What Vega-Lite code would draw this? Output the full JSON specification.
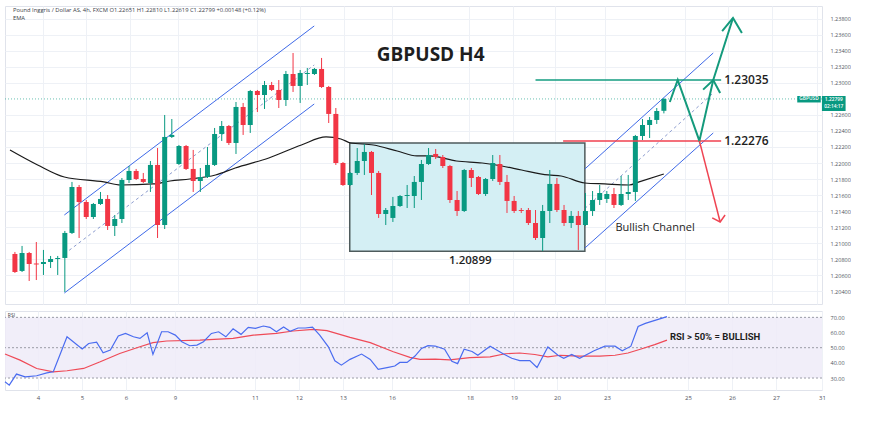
{
  "$schema": "https://vega.github.io/schema/vega-lite/v6.json",
  "background": "white",
  "padding": {"left": 2, "top": 5, "right": 0, "bottom": 0},
  "spacing": 5,
  "config": {"view": {"stroke": "#e0e3eb"}, "font": "Open Sans"},
  "datasets": {
    "candles": [
      {"i":0,"o":1.20866,"h":1.20891,"l":1.20629,"c":1.20641},
      {"i":1,"o":1.20654,"h":1.20966,"l":1.20641,"c":1.20878},
      {"i":2,"o":1.20878,"h":1.20891,"l":1.20529,"c":1.20741},
      {"i":3,"o":1.20747,"h":1.21015,"l":1.20541,"c":1.20735},
      {"i":4,"o":1.20741,"h":1.20916,"l":1.20604,"c":1.20766},
      {"i":5,"o":1.20766,"h":1.20841,"l":1.20691,"c":1.20803},
      {"i":6,"o":1.20803,"h":1.20841,"l":1.20604,"c":1.20816},
      {"i":7,"o":1.20816,"h":1.21153,"l":1.20392,"c":1.21128},
      {"i":8,"o":1.21128,"h":1.21764,"l":1.21115,"c":1.21701},
      {"i":9,"o":1.21701,"h":1.21726,"l":1.21065,"c":1.21514},
      {"i":10,"o":1.21514,"h":1.21539,"l":1.21302,"c":1.21327},
      {"i":11,"o":1.21327,"h":1.21502,"l":1.21302,"c":1.21489},
      {"i":12,"o":1.21489,"h":1.21639,"l":1.21477,"c":1.21552},
      {"i":13,"o":1.21552,"h":1.21601,"l":1.21165,"c":1.21215},
      {"i":14,"o":1.21215,"h":1.21352,"l":1.2109,"c":1.21302},
      {"i":15,"o":1.21302,"h":1.21813,"l":1.21252,"c":1.21788},
      {"i":16,"o":1.21788,"h":1.21963,"l":1.21751,"c":1.21901},
      {"i":17,"o":1.21901,"h":1.21926,"l":1.21788,"c":1.21801},
      {"i":18,"o":1.21801,"h":1.21876,"l":1.21751,"c":1.21764},
      {"i":19,"o":1.21751,"h":1.22025,"l":1.21639,"c":1.21976},
      {"i":20,"o":1.21976,"h":1.22187,"l":1.21065,"c":1.21227},
      {"i":21,"o":1.21227,"h":1.22599,"l":1.21177,"c":1.22325},
      {"i":22,"o":1.22325,"h":1.22549,"l":1.22312,"c":1.2235},
      {"i":23,"o":1.21988,"h":1.22225,"l":1.21976,"c":1.22212},
      {"i":24,"o":1.22212,"h":1.22225,"l":1.21913,"c":1.21926},
      {"i":25,"o":1.21926,"h":1.22163,"l":1.21639,"c":1.21776},
      {"i":26,"o":1.21776,"h":1.21938,"l":1.21639,"c":1.21826},
      {"i":27,"o":1.21826,"h":1.222,"l":1.21813,"c":1.21976},
      {"i":28,"o":1.21976,"h":1.22437,"l":1.21963,"c":1.22362},
      {"i":29,"o":1.22362,"h":1.22524,"l":1.22275,"c":1.22462},
      {"i":30,"o":1.22462,"h":1.22474,"l":1.22225,"c":1.2225},
      {"i":31,"o":1.2225,"h":1.22761,"l":1.22113,"c":1.22699},
      {"i":32,"o":1.22699,"h":1.22749,"l":1.2235,"c":1.22474},
      {"i":33,"o":1.22474,"h":1.22911,"l":1.22375,"c":1.22898},
      {"i":34,"o":1.22898,"h":1.22911,"l":1.22636,"c":1.22848},
      {"i":35,"o":1.22848,"h":1.23023,"l":1.22674,"c":1.22973},
      {"i":36,"o":1.22973,"h":1.23011,"l":1.22898,"c":1.22911},
      {"i":37,"o":1.22911,"h":1.23035,"l":1.22686,"c":1.22786},
      {"i":38,"o":1.22786,"h":1.23148,"l":1.22711,"c":1.2311},
      {"i":39,"o":1.2311,"h":1.23372,"l":1.22886,"c":1.22961},
      {"i":40,"o":1.22961,"h":1.2316,"l":1.22749,"c":1.23123},
      {"i":41,"o":1.2311,"h":1.23185,"l":1.22973,"c":1.23123},
      {"i":42,"o":1.2311,"h":1.23185,"l":1.23098,"c":1.23173},
      {"i":43,"o":1.23173,"h":1.2331,"l":1.22936,"c":1.22948},
      {"i":44,"o":1.22948,"h":1.22961,"l":1.22499,"c":1.22612},
      {"i":45,"o":1.22612,"h":1.22686,"l":1.21976,"c":1.22},
      {"i":46,"o":1.22,"h":1.22013,"l":1.21714,"c":1.21726},
      {"i":47,"o":1.21726,"h":1.21888,"l":1.21714,"c":1.21876},
      {"i":48,"o":1.21876,"h":1.22187,"l":1.21851,"c":1.22025},
      {"i":49,"o":1.22025,"h":1.22237,"l":1.21851,"c":1.22138},
      {"i":50,"o":1.22138,"h":1.2215,"l":1.21601,"c":1.21876},
      {"i":51,"o":1.21876,"h":1.21901,"l":1.21315,"c":1.21364},
      {"i":52,"o":1.21364,"h":1.21439,"l":1.21227,"c":1.21414},
      {"i":53,"o":1.21315,"h":1.21577,"l":1.21265,"c":1.21464},
      {"i":54,"o":1.21464,"h":1.21601,"l":1.21452,"c":1.21589},
      {"i":55,"o":1.21589,"h":1.21726,"l":1.21439,"c":1.21601},
      {"i":56,"o":1.21589,"h":1.21838,"l":1.21439,"c":1.21764},
      {"i":57,"o":1.21764,"h":1.22038,"l":1.21539,"c":1.21988},
      {"i":58,"o":1.21988,"h":1.22187,"l":1.21976,"c":1.221},
      {"i":59,"o":1.22113,"h":1.22175,"l":1.2205,"c":1.22075},
      {"i":60,"o":1.22075,"h":1.221,"l":1.21938,"c":1.21963},
      {"i":61,"o":1.21963,"h":1.21976,"l":1.21502,"c":1.21539},
      {"i":62,"o":1.21539,"h":1.21651,"l":1.2134,"c":1.21402},
      {"i":63,"o":1.21402,"h":1.21926,"l":1.21389,"c":1.21913},
      {"i":64,"o":1.21913,"h":1.21938,"l":1.21701,"c":1.21813},
      {"i":65,"o":1.21826,"h":1.21838,"l":1.21601,"c":1.21614},
      {"i":66,"o":1.21614,"h":1.21813,"l":1.21589,"c":1.21801},
      {"i":67,"o":1.21801,"h":1.221,"l":1.21776,"c":1.22},
      {"i":68,"o":1.21988,"h":1.221,"l":1.21726,"c":1.21764},
      {"i":69,"o":1.21764,"h":1.21851,"l":1.21377,"c":1.21527},
      {"i":70,"o":1.21527,"h":1.21589,"l":1.21377,"c":1.21402},
      {"i":71,"o":1.21414,"h":1.21439,"l":1.21377,"c":1.21402},
      {"i":72,"o":1.21414,"h":1.21439,"l":1.21227,"c":1.21252},
      {"i":73,"o":1.21252,"h":1.21414,"l":1.2104,"c":1.21065},
      {"i":74,"o":1.21065,"h":1.21477,"l":1.20903,"c":1.21402},
      {"i":75,"o":1.21402,"h":1.21913,"l":1.21252,"c":1.21739},
      {"i":76,"o":1.21739,"h":1.21813,"l":1.21389,"c":1.21414},
      {"i":77,"o":1.21414,"h":1.21477,"l":1.21215,"c":1.21252},
      {"i":78,"o":1.21252,"h":1.21402,"l":1.2119,"c":1.2134},
      {"i":79,"o":1.2134,"h":1.21402,"l":1.20916,"c":1.21227},
      {"i":80,"o":1.21227,"h":1.21626,"l":1.21215,"c":1.21402},
      {"i":81,"o":1.21402,"h":1.21651,"l":1.2134,"c":1.21539},
      {"i":82,"o":1.21539,"h":1.21726,"l":1.21477,"c":1.21626},
      {"i":83,"o":1.21552,"h":1.21651,"l":1.21502,"c":1.21614},
      {"i":84,"o":1.21614,"h":1.21689,"l":1.21439,"c":1.21477},
      {"i":85,"o":1.21477,"h":1.21838,"l":1.21464,"c":1.21614},
      {"i":86,"o":1.21614,"h":1.21851,"l":1.21539,"c":1.21639},
      {"i":87,"o":1.21639,"h":1.2235,"l":1.21527,"c":1.22337},
      {"i":88,"o":1.22337,"h":1.22549,"l":1.22287,"c":1.22474},
      {"i":89,"o":1.22474,"h":1.22574,"l":1.22312,"c":1.22537},
      {"i":90,"o":1.22537,"h":1.22686,"l":1.22487,"c":1.22649},
      {"i":91,"o":1.22651,"h":1.2281,"l":1.22619,"c":1.22799}
    ],
    "ema": [
      {"i":-0.69,"p":1.22163},{"i":3.19,"p":1.21976},{"i":6.93,"p":1.21826},{"i":12.47,"p":1.21764},
      {"i":14.82,"p":1.21726},{"i":19.39,"p":1.21739},{"i":21.75,"p":1.21776},{"i":24.52,"p":1.21801},
      {"i":28.12,"p":1.21851},{"i":30.89,"p":1.21938},{"i":35.6,"p":1.22063},{"i":40.17,"p":1.22225},
      {"i":43.63,"p":1.22325},{"i":45.71,"p":1.223},{"i":47.09,"p":1.2225},{"i":50.28,"p":1.22225},
      {"i":53.6,"p":1.2215},{"i":56.37,"p":1.22088},{"i":58.17,"p":1.22088},{"i":61.91,"p":1.22025},
      {"i":65.51,"p":1.22},{"i":68.28,"p":1.21963},{"i":71.05,"p":1.21913},{"i":74.79,"p":1.21851},
      {"i":76.59,"p":1.21838},{"i":79.92,"p":1.21751},{"i":82.69,"p":1.21739},{"i":86.15,"p":1.21726},
      {"i":87.53,"p":1.21764},{"i":90.99,"p":1.21863}
    ],
    "channels": [
      {"id":"lu","kind":"edge","i":6.93,"p":1.21352},{"id":"lu","kind":"edge","i":41.97,"p":1.23709},
      {"id":"ll","kind":"edge","i":6.93,"p":1.20379},{"id":"ll","kind":"edge","i":41.97,"p":1.22736},
      {"id":"lm","kind":"mid","i":6.93,"p":1.20866},{"id":"lm","kind":"mid","i":41.97,"p":1.23223},
      {"id":"ru","kind":"edge","i":79.92,"p":1.21926},{"id":"ru","kind":"edge","i":97.92,"p":1.23372},
      {"id":"rl","kind":"edge","i":79.92,"p":1.2094},{"id":"rl","kind":"edge","i":97.92,"p":1.22375},
      {"id":"rm","kind":"mid","i":79.92,"p":1.21433},{"id":"rm","kind":"mid","i":97.92,"p":1.22873}
    ],
    "levels": [
      {"id":"target","i":73.0,"i2":99.03,"p":1.23035},
      {"id":"support","i":76.87,"i2":99.03,"p":1.22276}
    ],
    "arrows": [
      {"id":"g","side":"up","o":0,"i":91.83,"p":1.22761},
      {"id":"g","side":"up","o":1,"i":92.94,"p":1.23035},
      {"id":"g","side":"up","o":2,"i":95.98,"p":1.22276},
      {"id":"g","side":"up","o":3,"i":97.92,"p":1.23035},
      {"id":"g","side":"up","o":4,"i":100.69,"p":1.23809},
      {"id":"gh1","side":"up","o":0,"i":96.5,"p":1.22915},
      {"id":"gh1","side":"up","o":1,"i":97.92,"p":1.23035},
      {"id":"gh1","side":"up","o":2,"i":98.89,"p":1.22873},
      {"id":"gh2","side":"up","o":0,"i":99.17,"p":1.23646},
      {"id":"gh2","side":"up","o":1,"i":100.69,"p":1.23809},
      {"id":"gh2","side":"up","o":2,"i":101.94,"p":1.23622},
      {"id":"r","side":"down","o":0,"i":95.98,"p":1.22276},
      {"id":"r","side":"down","o":1,"i":98.89,"p":1.21265},
      {"id":"rh","side":"down","o":0,"i":97.78,"p":1.21315},
      {"id":"rh","side":"down","o":1,"i":98.89,"p":1.21265},
      {"id":"rh","side":"down","o":2,"i":99.58,"p":1.21352}
    ],
    "rsi": [
      {"i":-0.69,"v":27.5},{"i":-0.1,"v":25.3},{"i":0.9,"v":32.6},{"i":2.1,"v":30.8},{"i":3.7,"v":31.5},
      {"i":5.1,"v":33.4},{"i":6.0,"v":34.1},{"i":7.9,"v":57.2},{"i":10.0,"v":49.1},{"i":10.9,"v":52.8},
      {"i":12.0,"v":53.7},{"i":12.9,"v":46.6},{"i":13.9,"v":48.4},{"i":15.0,"v":57.7},{"i":16.0,"v":59.4},
      {"i":17.1,"v":57.2},{"i":18.0,"v":56.1},{"i":19.0,"v":59.8},{"i":19.8,"v":45.6},{"i":21.0,"v":60.5},
      {"i":21.9,"v":60.5},{"i":22.9,"v":58.3},{"i":23.8,"v":53.9},{"i":24.9,"v":51.3},{"i":25.9,"v":51.7},
      {"i":26.8,"v":53.9},{"i":27.9,"v":59.4},{"i":28.9,"v":60.5},{"i":29.9,"v":57.2},{"i":30.9,"v":62.5},
      {"i":32.0,"v":58.8},{"i":33.0,"v":63.4},{"i":34.0,"v":62.8},{"i":35.1,"v":64.3},{"i":36.0,"v":63.4},
      {"i":36.9,"v":60.5},{"i":37.9,"v":63.6},{"i":38.8,"v":60.8},{"i":39.9,"v":63.0},{"i":40.9,"v":63.0},
      {"i":41.9,"v":63.6},{"i":42.9,"v":58.3},{"i":44.1,"v":50.6},{"i":45.0,"v":41.4},{"i":45.9,"v":38.5},
      {"i":47.1,"v":42.3},{"i":48.7,"v":45.8},{"i":49.9,"v":42.3},{"i":51.0,"v":35.7},{"i":52.4,"v":37.0},
      {"i":53.3,"v":37.9},{"i":54.0,"v":40.3},{"i":55.0,"v":40.3},{"i":56.1,"v":44.5},{"i":57.0,"v":49.5},
      {"i":57.9,"v":51.3},{"i":58.9,"v":51.1},{"i":60.2,"v":49.0},{"i":61.2,"v":41.0},{"i":62.0,"v":39.5},
      {"i":62.9,"v":49.0},{"i":64.0,"v":47.5},{"i":64.8,"v":45.0},{"i":66.5,"v":51.0},{"i":68.3,"v":46.0},
      {"i":69.5,"v":43.0},{"i":70.6,"v":41.5},{"i":72.0,"v":41.5},{"i":73.0,"v":37.0},{"i":74.5,"v":50.5},
      {"i":75.9,"v":45.0},{"i":76.7,"v":43.0},{"i":77.8,"v":45.5},{"i":78.9,"v":43.0},{"i":80.9,"v":48.0},
      {"i":82.4,"v":51.0},{"i":83.8,"v":51.0},{"i":84.8,"v":48.0},{"i":86.0,"v":51.0},{"i":87.0,"v":64.0},
      {"i":88.0,"v":66.0},{"i":89.0,"v":67.5},{"i":90.0,"v":69.0},{"i":91.0,"v":70.5}
    ],
    "rsima": [
      {"i":-0.69,"v":45.8},{"i":1.4,"v":41.8},{"i":3.7,"v":36.3},{"i":6.0,"v":34.1},{"i":7.9,"v":34.8},
      {"i":10.2,"v":36.3},{"i":12.5,"v":40.7},{"i":15.2,"v":46.2},{"i":18.0,"v":50.6},{"i":19.8,"v":53.3},
      {"i":21.7,"v":54.4},{"i":26.3,"v":55.0},{"i":30.9,"v":56.1},{"i":33.7,"v":58.3},{"i":36.9,"v":59.4},
      {"i":39.2,"v":61.0},{"i":42.0,"v":62.1},{"i":43.9,"v":61.2},{"i":47.1,"v":56.8},{"i":49.9,"v":53.3},
      {"i":53.1,"v":47.3},{"i":55.4,"v":43.6},{"i":56.8,"v":42.3},{"i":58.9,"v":42.5},{"i":60.9,"v":42.0},
      {"i":63.7,"v":43.5},{"i":66.5,"v":44.0},{"i":68.6,"v":46.0},{"i":70.6,"v":46.5},{"i":72.7,"v":45.5},
      {"i":74.5,"v":44.0},{"i":76.2,"v":45.0},{"i":78.9,"v":44.5},{"i":81.7,"v":44.5},{"i":83.8,"v":45.0},
      {"i":85.6,"v":46.5},{"i":87.3,"v":49.0},{"i":89.3,"v":52.0},{"i":91.0,"v":55.0}
    ]
  },
  "vconcat": [
    {
      "width": 817,
      "height": 298,
      "layer": [
        {
          "data": {"values": [{"i":46.95,"i2":79.92,"p":1.2225,"p2":1.20899}]},
          "mark": {"type":"rect","fill":"#d4eff4","stroke":"#4e5b5c","strokeWidth":1.5},
          "encoding": {
            "x": {"field":"i","type":"quantitative","title":null,"scale":{"domain":[-0.69,112.47],"nice":false,"zero":false},
                  "axis":{"values":[3.88,9.97,16.07,22.85,33.93,40.03,46.12,52.9,63.71,69.81,75.76,82.69,93.91,100,106.09,112.46],"tickCount":60,"labels":false,"ticks":false,"domain":false,"grid":true,"gridColor":"#eef1f6","title":null}},
            "x2": {"field":"i2"},
            "y": {"field":"p","type":"quantitative","title":null,"scale":{"domain":[1.20242,1.23958],"nice":false,"zero":false},
                  "axis":{"orient":"right","values":[1.204,1.206,1.208,1.21,1.212,1.214,1.216,1.218,1.22,1.222,1.224,1.226,1.23,1.232,1.234,1.236,1.238],"tickCount":60,"format":".5f","labelFontSize":5.5,"labelColor":"#50535e","labelPadding":8,"labelOverlap":false,"labelFlush":false,"ticks":false,"domain":false,"grid":true,"gridColor":"#eef1f6","title":null}},
            "y2": {"field":"p2"}
          }
        },
        {
          "data": {"values": [{"p":1.22799}]},
          "mark": {"type":"rule","stroke":"#089981","strokeDash":[1,2],"strokeWidth":1,"opacity":0.6},
          "encoding": {"y": {"field":"p","type":"quantitative","title":null}}
        },
        {
          "data": {"name":"channels"},
          "transform": [{"filter":"datum.kind == 'edge'"}],
          "mark": {"type":"line","stroke":"#3f6ae8","strokeWidth":1},
          "encoding": {
            "x": {"field":"i","type":"quantitative","title":null},
            "y": {"field":"p","type":"quantitative","title":null},
            "detail": {"field":"id"}
          }
        },
        {
          "data": {"name":"channels"},
          "transform": [{"filter":"datum.kind == 'mid'"}],
          "mark": {"type":"line","stroke":"#8c9ccf","strokeWidth":1,"strokeDash":[3,3]},
          "encoding": {
            "x": {"field":"i","type":"quantitative","title":null},
            "y": {"field":"p","type":"quantitative","title":null},
            "detail": {"field":"id"}
          }
        },
        {
          "data": {"name":"ema"},
          "mark": {"type":"line","stroke":"#1a1a1a","strokeWidth":1.2,"interpolate":"monotone"},
          "encoding": {
            "x": {"field":"i","type":"quantitative","title":null},
            "y": {"field":"p","type":"quantitative","title":null}
          }
        },
        {
          "data": {"name":"candles"},
          "mark": {"type":"rule","strokeWidth":1},
          "encoding": {
            "x": {"field":"i","type":"quantitative","title":null},
            "y": {"field":"l","type":"quantitative","title":null},
            "y2": {"field":"h"},
            "color": {"condition":{"test":"datum.c >= datum.o","value":"#089981"},"value":"#f23645"}
          }
        },
        {
          "data": {"name":"candles"},
          "mark": {"type":"bar","size":5},
          "encoding": {
            "x": {"field":"i","type":"quantitative","title":null},
            "y": {"field":"o","type":"quantitative","title":null},
            "y2": {"field":"c"},
            "color": {"condition":{"test":"datum.c >= datum.o","value":"#089981"},"value":"#f23645"}
          }
        },
        {
          "data": {"name":"levels"},
          "mark": {"type":"rule","strokeWidth":1.5},
          "encoding": {
            "x": {"field":"i","type":"quantitative","title":null},
            "x2": {"field":"i2"},
            "y": {"field":"p","type":"quantitative","title":null},
            "color": {"condition":{"test":"datum.id == 'target'","value":"#139c80"},"value":"#f0414f"}
          }
        },
        {
          "data": {"name":"arrows"},
          "transform": [{"filter":"datum.side == 'up'"}],
          "mark": {"type":"line","stroke":"#149a7c","strokeWidth":2},
          "encoding": {
            "x": {"field":"i","type":"quantitative","title":null},
            "y": {"field":"p","type":"quantitative","title":null},
            "detail": {"field":"id"},
            "order": {"field":"o"}
          }
        },
        {
          "data": {"name":"arrows"},
          "transform": [{"filter":"datum.side == 'down'"}],
          "mark": {"type":"line","stroke":"#ef4452","strokeWidth":1.5},
          "encoding": {
            "x": {"field":"i","type":"quantitative","title":null},
            "y": {"field":"p","type":"quantitative","title":null},
            "detail": {"field":"id"},
            "order": {"field":"o"}
          }
        },
        {
          "data": {"values": [{"i":58.3,"p":1.23347,"t":"GBPUSD H4"}]},
          "mark": {"type":"text","font":"Open Sans","fontSize":19,"fontWeight":"bold","color":"#1e1e1e","align":"center","baseline":"middle"},
          "encoding": {
            "x": {"field":"i","type":"quantitative","title":null},
            "y": {"field":"p","type":"quantitative","title":null},
            "text": {"field":"t"}
          }
        },
        {
          "data": {"values": [{"i":99.45,"p":1.23035,"t":"1.23035"},{"i":99.45,"p":1.22276,"t":"1.22276"}]},
          "mark": {"type":"text","font":"Open Sans","fontSize":12,"fontWeight":600,"color":"#1e1e1e","align":"left","baseline":"middle"},
          "encoding": {
            "x": {"field":"i","type":"quantitative","title":null},
            "y": {"field":"p","type":"quantitative","title":null},
            "text": {"field":"t"}
          }
        },
        {
          "data": {"values": [{"i":63.85,"p":1.20778,"t":"1.20899"}]},
          "mark": {"type":"text","font":"Open Sans","fontSize":11.5,"fontWeight":600,"color":"#1e1e1e","align":"center","baseline":"middle"},
          "encoding": {
            "x": {"field":"i","type":"quantitative","title":null},
            "y": {"field":"p","type":"quantitative","title":null},
            "text": {"field":"t"}
          }
        },
        {
          "data": {"values": [{"i":84.2,"p":1.2119,"t":"Bullish Channel"}]},
          "mark": {"type":"text","font":"Open Sans","fontSize":11,"fontWeight":500,"color":"#1e1e1e","align":"left","baseline":"middle"},
          "encoding": {
            "x": {"field":"i","type":"quantitative","title":null},
            "y": {"field":"p","type":"quantitative","title":null},
            "text": {"field":"t"}
          }
        },
        {
          "data": {"values": [
            {"i":-0.28,"p":1.23908,"t":"Pound Inggris / Dollar AS, 4h, FXCM   O1.22651   H1.22810   L1.22619   C1.22799   +0.00148 (+0.12%)"},
            {"i":-0.28,"p":1.23809,"t":"EMA"}
          ]},
          "mark": {"type":"text","font":"Open Sans","fontSize":5.8,"color":"#3b3e48","align":"left","baseline":"middle"},
          "encoding": {
            "x": {"field":"i","type":"quantitative","title":null},
            "y": {"field":"p","type":"quantitative","title":null},
            "text": {"field":"t"}
          }
        },
        {
          "data": {"values": [
            {"i":109.7,"i2":113.0,"p":1.22836,"p2":1.22755},
            {"i":113.16,"i2":116.48,"p":1.22836,"p2":1.22649}
          ]},
          "mark": {"type":"rect","fill":"#089981"},
          "encoding": {
            "x": {"field":"i","type":"quantitative","title":null},
            "x2": {"field":"i2"},
            "y": {"field":"p","type":"quantitative","title":null},
            "y2": {"field":"p2"}
          }
        },
        {
          "data": {"values": [
            {"i":111.35,"p":1.22796,"t":"GBPUSD"},
            {"i":114.82,"p":1.2279,"t":"1.22799"},
            {"i":114.82,"p":1.22699,"t":"02:14:17"}
          ]},
          "mark": {"type":"text","font":"Open Sans","fontSize":4.8,"fontWeight":600,"color":"white","align":"center","baseline":"middle"},
          "encoding": {
            "x": {"field":"i","type":"quantitative","title":null},
            "y": {"field":"p","type":"quantitative","title":null},
            "text": {"field":"t"}
          }
        }
      ]
    },
    {
      "width": 817,
      "height": 79,
      "layer": [
        {
          "data": {"name":"rsi"},
          "mark": {"type":"line","stroke":"#4a6cf0","strokeWidth":1.2,"opacity":0},
          "encoding": {
            "x": {"field":"i","type":"quantitative","title":null,"scale":{"domain":[-0.69,112.47],"nice":false,"zero":false},
                  "axis":{"values":[3.88,9.97,16.07,22.85,33.93,40.03,46.12,52.9,63.71,69.81,75.76,82.69,93.91,100,106.09,112.46],"tickCount":60,
                          "labelExpr":"['4','5','6','9','11','12','13','16','18','19','20','23','25','26','27','31'][indexof([3.88,9.97,16.07,22.85,33.93,40.03,46.12,52.9,63.71,69.81,75.76,82.69,93.91,100,106.09,112.46], datum.value)]",
                          "labelFontSize":6,"labelColor":"#50535e","labelPadding":4,"labelFlush":false,"labelOverlap":false,"ticks":false,"domain":false,"grid":true,"gridColor":"#eef1f6","title":null}},
            "y": {"field":"v","type":"quantitative","title":null,"scale":{"domain":[22.1,74.2],"nice":false,"zero":false},
                  "axis":{"orient":"right","values":[30,40,50,60,70],"tickCount":20,"format":".2f","labelFontSize":5.5,"labelColor":"#50535e","labelPadding":8,"labelOverlap":false,"labelFlush":false,"ticks":false,"domain":false,"grid":false,"title":null}}
          }
        },
        {
          "data": {"values": [{"lo":30,"hi":70}]},
          "mark": {"type":"rect","fill":"#efebf8","opacity":0.85},
          "encoding": {
            "y": {"field":"lo","type":"quantitative","title":null},
            "y2": {"field":"hi"}
          }
        },
        {
          "data": {"values": [{"v":70},{"v":50},{"v":30}]},
          "mark": {"type":"rule","stroke":"#9a9ca6","strokeDash":[2,2],"strokeWidth":1},
          "encoding": {"y": {"field":"v","type":"quantitative","title":null}}
        },
        {
          "data": {"name":"rsima"},
          "mark": {"type":"line","stroke":"#ef4a57","strokeWidth":1.2},
          "encoding": {
            "x": {"field":"i","type":"quantitative","title":null},
            "y": {"field":"v","type":"quantitative","title":null}
          }
        },
        {
          "data": {"name":"rsi"},
          "mark": {"type":"line","stroke":"#4a6cf0","strokeWidth":1.2},
          "encoding": {
            "x": {"field":"i","type":"quantitative","title":null},
            "y": {"field":"v","type":"quantitative","title":null}
          }
        },
        {
          "data": {"values": [{"i":-0.3,"v":71.3,"t":"RSI"}]},
          "mark": {"type":"text","font":"Open Sans","fontSize":5,"color":"#3b3e48","align":"left","baseline":"middle"},
          "encoding": {
            "x": {"field":"i","type":"quantitative","title":null},
            "y": {"field":"v","type":"quantitative","title":null},
            "text": {"field":"t"}
          }
        },
        {
          "data": {"values": [{"i":91.4,"v":57.0,"t":"RSI > 50% = BULLISH"}]},
          "mark": {"type":"text","font":"Roboto","fontSize":9.5,"fontWeight":"bold","color":"#1e1e1e","align":"left","baseline":"middle"},
          "encoding": {
            "x": {"field":"i","type":"quantitative","title":null},
            "y": {"field":"v","type":"quantitative","title":null},
            "text": {"field":"t"}
          }
        }
      ]
    }
  ]
}
